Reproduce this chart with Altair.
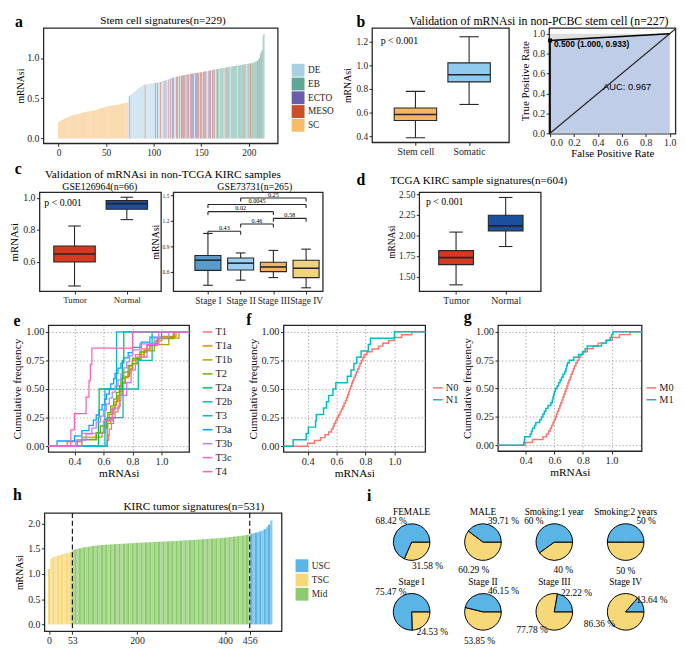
import json
import math
import altair as alt
import pandas as pd

SX = 0.98
SY = 0.985


def PX(v):
    return round(v * SX, 2)


def PY(v):
    return round(v * SY, 2)


SERIF = "Liberation Serif"
SANS = "Liberation Sans"
INK = "#262626"
NOFRAME = alt.ViewBackground(stroke="transparent")
FONTS = dict(labelFont=SERIF, titleFont=SERIF, titleFontWeight="normal")

# ============================ DATA ============================
# ---- a : stem cell signatures (sorted mRNAsi)
a_sc_values = [0.20, 0.21, 0.22, 0.225, 0.23, 0.24, 0.245, 0.25, 0.255, 0.26,
               0.265, 0.27, 0.275, 0.28, 0.285, 0.29, 0.29, 0.295, 0.295, 0.30,
               0.30, 0.305, 0.31, 0.31, 0.315, 0.32, 0.32, 0.325, 0.33, 0.33,
               0.335, 0.335, 0.335, 0.34, 0.34, 0.34, 0.345, 0.345, 0.35, 0.35,
               0.355, 0.36, 0.365, 0.37, 0.375, 0.38, 0.38, 0.385, 0.39, 0.39,
               0.395, 0.40, 0.40, 0.40, 0.405, 0.405, 0.41, 0.41, 0.41, 0.415,
               0.415, 0.42, 0.42, 0.42, 0.425, 0.425, 0.43, 0.43, 0.435, 0.435,
               0.44, 0.44, 0.445, 0.45]
a_mix_values = [0.52, 0.53, 0.54, 0.55, 0.56, 0.57, 0.58, 0.59, 0.60, 0.61,
                0.62, 0.63, 0.64, 0.65, 0.655, 0.66, 0.665, 0.67, 0.672, 0.675,
                0.677, 0.678, 0.68, 0.68, 0.682, 0.684, 0.686, 0.688, 0.69, 0.692,
                0.695, 0.698, 0.70, 0.703, 0.706, 0.71, 0.713, 0.716, 0.72, 0.723,
                0.726, 0.73, 0.735, 0.74, 0.745, 0.75, 0.755, 0.758, 0.762, 0.765,
                0.768, 0.77, 0.773, 0.776, 0.778, 0.78, 0.782, 0.785, 0.787, 0.79,
                0.792, 0.794, 0.796, 0.798, 0.80, 0.802, 0.804, 0.806, 0.808, 0.81,
                0.812, 0.814, 0.816, 0.818, 0.82, 0.822, 0.824, 0.826, 0.828, 0.83,
                0.832, 0.834, 0.836, 0.838, 0.84, 0.843, 0.846, 0.849, 0.852, 0.855,
                0.858, 0.86, 0.862, 0.864, 0.866, 0.868, 0.87, 0.872, 0.874, 0.876,
                0.878, 0.88, 0.882, 0.884, 0.886, 0.888, 0.89, 0.892, 0.894, 0.896,
                0.898, 0.90, 0.902, 0.904, 0.906, 0.908, 0.91, 0.912, 0.914, 0.916,
                0.918, 0.92, 0.922, 0.924, 0.926, 0.928, 0.93, 0.932, 0.934, 0.936,
                0.94, 0.945, 0.95, 0.955, 0.96, 0.97, 0.98, 1.0, 1.05, 1.08,
                1.10, 1.28, 1.30]
a_mix_codes = ("DEDDDDDDDDDDDDDDD" "MDDDDDDDDDDEDEDDMDDD" "EDMDDEDMDEMDDMEDMDEM"
               "MEMDMMEDMMEMDMEMMDME" "DMMEMDDEMMDEBMDBMBDB" "BBBDBBMBBBDBBBBBBDBB"
               "BBBBMBBDBBBMBBBBBBEB" "MBEBBB")
a_code_names = {"D": "DE", "B": "EB", "E": "ECTO", "M": "MESO"}
a_categories = ["DE", "EB", "ECTO", "MESO", "SC"]
a_colors = ["#A9CFE3", "#5EA796", "#6A5EAA", "#C64F2E", "#F6BA68"]
a_xticks = [0, 50, 100, 150, 200]

# ---- b : boxplot + ROC
b_groups = ["Stem cell", "Somatic"]
b_lower = [0.39, 0.67]
b_q1 = [0.535, 0.86]
b_median = [0.585, 0.92]
b_q3 = [0.64, 1.02]
b_upper = [0.78, 1.24]
b_colors = ["#F6B760", "#8FCBEF"]

roc_fpr = [0.0, 0.0, 1.0]
roc_tpr = [0.0, 0.933, 1.0]
roc_max_fpr = [0.0, 1.0]
roc_max_tpr = [0.0, 1.0]
roc_diag = [0.0, 1.1]
roc_best = [0.0, 0.933]
roc_best_label = "0.500 (1.000, 0.933)"
roc_auc_label = "AUC: 0.967"

# ---- c : GSE126964
c1_groups = ["Tumor", "Normal"]
c1_lower = [0.45, 0.865]
c1_q1 = [0.60, 0.93]
c1_median = [0.65, 0.965]
c1_q3 = [0.70, 0.985]
c1_upper = [0.825, 1.005]
tn_colors = ["#D8381F", "#1D4F9F"]

# ---- c : GSE73731
c2_groups = ["Stage I", "Stage II", "Stage III", "Stage IV"]
c2_lower = [0.44, 0.50, 0.53, 0.41]
c2_q1 = [0.615, 0.62, 0.60, 0.53]
c2_median = [0.735, 0.70, 0.655, 0.64]
c2_q3 = [0.79, 0.76, 0.71, 0.735]
c2_upper = [1.05, 0.82, 0.85, 0.865]
c2_colors = ["#5B9BCB", "#9DD0F0", "#F6B461", "#F1D27F"]
c2_pair_left = [0, 1, 2, 0, 0, 1]
c2_pair_right = [1, 2, 3, 2, 3, 3]
c2_bracket_y = [1.075, 1.16, 1.227, 1.306, 1.39, 1.466]
c2_bracket_p = ["0.43", "0.46", "0.58", "0.02", "0.0045", "0.25"]

# ---- d : TCGA KIRC
d_groups = ["Tumor", "Normal"]
d_lower = [1.40, 1.865]
d_q1 = [1.645, 2.055]
d_median = [1.73, 2.115]
d_q3 = [1.815, 2.245]
d_upper = [2.04, 2.46]

# ---- e : T stage ECDF samples
e_groups = ["T1", "T1a", "T1b", "T2", "T2a", "T2b", "T3", "T3a", "T3b", "T3c", "T4"]
e_colors = ["#F8766D", "#DB8E00", "#AEA200", "#64B200", "#00BD5C", "#00C1A7",
            "#00BADE", "#00A6FF", "#B385FF", "#EF67EB", "#FF63B6"]
e_T1 = [0.625, 0.635, 0.64, 0.655, 0.67, 0.68, 0.70, 0.715, 0.72, 0.73, 0.735, 0.75,
        0.77, 0.78, 0.80, 0.82, 0.86, 0.92, 0.98, 1.09]
e_T1a = [0.35, 0.45, 0.59, 0.61, 0.63, 0.65, 0.66, 0.67, 0.68, 0.69, 0.70, 0.71, 0.72,
         0.73, 0.75, 0.77, 0.79, 0.80, 0.83, 0.86, 0.88, 0.92, 0.96, 1.0, 1.1]
e_T1b = [0.42, 0.55, 0.60, 0.62, 0.64, 0.66, 0.68, 0.70, 0.72, 0.73, 0.75, 0.78, 0.80,
         0.84, 0.88, 0.95, 1.05, 1.12]
e_T2 = [0.45, 0.55, 0.58, 0.61, 0.63, 0.65, 0.67, 0.69, 0.71, 0.72, 0.74, 0.77, 0.80,
        0.85, 0.90, 0.97, 1.08]
e_T2a = [0.565, 0.57, 0.73, 0.74]
e_T2b = [0.625, 0.735, 0.84, 0.935]
e_T3 = [0.61, 0.69]
e_T3a = [0.28, 0.40, 0.45, 0.50, 0.53, 0.55, 0.57, 0.59, 0.61, 0.62, 0.64, 0.65, 0.67,
         0.68, 0.70, 0.72, 0.74, 0.77, 0.80, 0.86, 0.92, 1.0]
e_T3b = [0.41, 0.48, 0.52, 0.55, 0.58, 0.60, 0.62, 0.64, 0.66, 0.68, 0.70, 0.72, 0.74,
         0.76, 0.78, 0.80, 0.85, 0.95, 1.05]
e_T3c = [0.45, 0.60, 0.66, 0.71, 0.76, 0.79, 0.82, 0.90, 0.98]
e_T4 = [0.375, 0.40, 0.48, 0.50, 0.51, 0.52, 0.80]

# ---- f : N stage ECDF samples
f_groups = ["N0", "N1"]
f_N0 = [0.40, 0.447, 0.49, 0.52, 0.545, 0.565, 0.576, 0.584, 0.594, 0.604,
        0.614, 0.624, 0.634, 0.644, 0.652, 0.662, 0.67, 0.677, 0.684, 0.69,
        0.697, 0.705, 0.712, 0.72, 0.729, 0.737, 0.746, 0.755, 0.762, 0.772,
        0.782, 0.791, 0.81, 0.845, 0.89, 0.92, 0.96, 1.0, 1.05, 1.12]
f_N1 = [0.30, 0.39, 0.405, 0.455, 0.46, 0.51, 0.53, 0.545, 0.575, 0.595,
        0.675, 0.70, 0.72, 0.74, 0.77, 0.82, 0.835, 1.0]
# ---- g : M stage ECDF samples
g_groups = ["M0", "M1"]
g_M0 = [0.395, 0.447, 0.52, 0.545, 0.56, 0.571, 0.58, 0.59, 0.598, 0.607,
        0.614, 0.622, 0.63, 0.638, 0.645, 0.652, 0.66, 0.667, 0.674, 0.681,
        0.688, 0.695, 0.702, 0.71, 0.717, 0.725, 0.733, 0.74, 0.75, 0.76,
        0.772, 0.784, 0.796, 0.83, 0.87, 0.905, 0.96, 1.005, 1.055, 1.13]
g_M1 = [0.385, 0.39, 0.392, 0.43, 0.44, 0.447, 0.46, 0.47, 0.497, 0.51,
        0.52, 0.53, 0.54, 0.555, 0.575, 0.585, 0.59, 0.595, 0.60, 0.607,
        0.62, 0.63, 0.64, 0.65, 0.66, 0.672, 0.68, 0.685, 0.69, 0.705,
        0.735, 0.77, 0.80, 0.815, 0.83, 0.93, 0.965, 0.99, 1.0, 1.01]
ng_colors = ["#F8766D", "#00BFC4"]

# ---- h : KIRC tumour signatures (one bar per 5 samples)
h_index = list(range(0, 506, 5))
h_values = [1.10, 1.30, 1.34, 1.35, 1.36, 1.375, 1.39, 1.40, 1.41, 1.425,
            1.44, 1.475, 1.49, 1.50, 1.51, 1.52, 1.53, 1.535, 1.54, 1.55,
            1.555, 1.56, 1.565, 1.57, 1.575, 1.578, 1.58, 1.583, 1.586, 1.589,
            1.592, 1.594, 1.597, 1.60, 1.602, 1.605, 1.607, 1.61, 1.612, 1.615,
            1.618, 1.62, 1.622, 1.624, 1.626, 1.628, 1.63, 1.632, 1.635, 1.637,
            1.639, 1.641, 1.643, 1.645, 1.647, 1.65, 1.652, 1.655, 1.657, 1.66,
            1.662, 1.665, 1.667, 1.67, 1.672, 1.675, 1.677, 1.68, 1.683, 1.686,
            1.689, 1.692, 1.695, 1.698, 1.70, 1.703, 1.707, 1.71, 1.714, 1.718,
            1.722, 1.726, 1.73, 1.735, 1.74, 1.745, 1.75, 1.755, 1.76, 1.767,
            1.775, 1.785, 1.80, 1.81, 1.82, 1.83, 1.845, 1.86, 1.89, 1.93,
            1.98, 2.06]
h_cuts = [53, 456]
h_xticks = [0, 53, 200, 400, 456]
h_groups = ["USC", "TSC", "Mid"]
h_colors = ["#5AB4E6", "#F7D878", "#8DCB6E"]

# ---- i : pies
i_titles = ["FEMALE", "MALE", "Smoking:1 year", "Smoking:2 years",
            "Stage I", "Stage II", "Stage III", "Stage IV"]
i_blue = [68.42, 39.71, 60, 50, 75.47, 46.15, 22.22, 13.64]
i_yellow = [31.58, 60.29, 40, 50, 24.53, 53.85, 77.78, 86.36]
i_col = [0, 1, 2, 3, 0, 1, 2, 3]
i_row = [0, 0, 0, 0, 1, 1, 1, 1]
i_colors = ["#5AB4E6", "#F7D878"]


# ============================ HELPERS ============================
def txt(text, x, y, size=11, weight="normal", align="center", baseline="middle",
        font=SERIF, color="black"):
    return alt.Chart(pd.DataFrame({"k": [0]})).mark_text(
        text=text, fontSize=size, fontWeight=weight, align=align, baseline=baseline,
        font=font, color=color).encode(x=alt.value(PX(x)), y=alt.value(PY(y)))


def letter(ch, x, y):
    return txt(ch, x, y, size=16, weight="bold", baseline="alphabetic")


def spacer(w, h):
    return alt.Chart(pd.DataFrame({"k": [0]})).mark_point(opacity=0).encode(
        x=alt.value(0), y=alt.value(0)).properties(width=PX(w), height=PY(h), view=NOFRAME)


def box_layers(names, lo, q1, md, q3, hi, colors, xdom, ydom, yvals, yfmt, ytitle,
               box_w, cap_w, xlab=10, ylab=10, ytit=10, ypad=2):
    df = pd.DataFrame({"i": list(range(len(names))), "g": names, "lo": lo, "q1": q1,
                       "md": md, "q3": q3, "hi": hi})
    xax = alt.Axis(values=list(range(len(names))),
                   labelExpr=json.dumps(names) + "[round(datum.value)]",
                   title=None, labelFontSize=xlab, labelOverlap=False, **FONTS)
    yax = alt.Axis(values=yvals, format=yfmt, title=ytitle, titleFontSize=ytit,
                   labelFontSize=ylab, titlePadding=ypad, **FONTS)
    xs = alt.Scale(domain=xdom, nice=False, zero=False)
    ys = alt.Scale(domain=ydom, nice=False, zero=False)

    def X(f="i"):
        return alt.X(f + ":Q", scale=xs, axis=xax)

    def Y(f):
        return alt.Y(f + ":Q", scale=ys, axis=yax)

    base = alt.Chart(df)
    layers = [
        base.mark_rule(color=INK, strokeWidth=1.1).encode(x=X(), y=Y("lo"), y2="hi:Q"),
        base.mark_bar(size=PX(box_w), stroke=INK, strokeWidth=1.1, orient="vertical",
                      opacity=1).encode(
            x=X(), y=Y("q1"), y2="q3:Q",
            color=alt.Color("g:N", scale=alt.Scale(domain=names, range=colors), legend=None)),
        base.mark_tick(orient="horizontal", size=PX(box_w), thickness=1.6, color=INK,
                       opacity=1).encode(x=X(), y=Y("md")),
        base.mark_tick(orient="horizontal", size=PX(cap_w), thickness=1.1, color=INK,
                       opacity=1).encode(x=X(), y=Y("lo")),
        base.mark_tick(orient="horizontal", size=PX(cap_w), thickness=1.1, color=INK,
                       opacity=1).encode(x=X(), y=Y("hi")),
    ]
    return layers, X, Y


def ecdf_chart(groups, samples, colors, xdom, ydom, lx, ly, row_pad, lab_size, sw):
    rows = []
    for g, vals in zip(groups, samples):
        vs = sorted(vals)
        n = len(vs)
        rows.append((g, xdom[0] - 0.1, 0.0, 0))
        for k, v in enumerate(vs, 1):
            rows.append((g, v, k / n, k))
        rows.append((g, xdom[1] + 0.1, 1.0, n + 1))
    df = pd.DataFrame(rows, columns=["g", "x", "y", "k"])
    grid = dict(grid=True, gridDash=[1.5, 2], gridColor="#9c9c9c", gridWidth=0.8)
    xe = alt.X("x:Q", scale=alt.Scale(domain=xdom, nice=False, zero=False),
               axis=alt.Axis(values=[0.4, 0.6, 0.8, 1.0], format=".1f", title="mRNAsi",
                             labelFontSize=10.5, titleFontSize=11.5, titlePadding=1,
                             **grid, **FONTS))
    ye = alt.Y("y:Q", scale=alt.Scale(domain=ydom, nice=False, zero=False),
               axis=alt.Axis(values=[0, 0.25, 0.5, 0.75, 1.0], format=".2f",
                             title="Cumulative frequency", labelFontSize=10.5,
                             titleFontSize=11.5, titlePadding=3, **grid, **FONTS))
    return alt.Chart(df).mark_line(interpolate="step-after", strokeWidth=sw, clip=True).encode(
        x=xe, y=ye, order="k:Q",
        color=alt.Color("g:N", scale=alt.Scale(domain=groups, range=colors), title=None,
                        legend=alt.Legend(orient="none", legendX=PX(lx), legendY=PY(ly),
                                          symbolType="stroke", symbolSize=100,
                                          symbolStrokeWidth=1.5, rowPadding=row_pad,
                                          labelFontSize=lab_size, labelOffset=2,
                                          labelFont=SERIF)))


# ============================ PANEL a ============================
a_vals = a_sc_values + a_mix_values
a_cats = ["SC"] * len(a_sc_values) + [a_code_names[c] for c in a_mix_codes]
dfA = pd.DataFrame(list(zip(range(len(a_vals)), a_vals, a_cats)), columns=["i", "v", "cat"])
xA = alt.X("i:Q", scale=alt.Scale(domain=[-10.7, 225.2], nice=False, zero=False),
           axis=alt.Axis(values=a_xticks, format="d", title=None, labelFontSize=9.5, **FONTS))
yA = alt.Y("v:Q", scale=alt.Scale(domain=[-0.06, 1.373], nice=False, zero=False),
           axis=alt.Axis(values=[0, 0.5, 1.0], format=".1f", title="mRNAsi",
                         titleFontSize=10, labelFontSize=10, titlePadding=1, **FONTS))
barsA = alt.Chart(dfA).mark_bar(size=PX(0.62), orient="vertical", opacity=0.85).encode(
    x=xA, y=yA, y2=alt.datum(0),
    color=alt.Color("cat:N", scale=alt.Scale(domain=a_categories, range=a_colors), title=None,
                    legend=alt.Legend(orient="none", legendX=PX(257), legendY=PY(36.5),
                                      symbolType="square", symbolSize=170,
                                      symbolStrokeWidth=0, symbolOpacity=1, rowPadding=0,
                                      labelFontSize=9.5, labelOffset=3, labelFont=SERIF)))
panelA = alt.layer(
    barsA,
    letter("a", -25.5, -0.5),
    txt("Stem cell signatures(n=229)", 124, -7, 11.3),
).properties(width=PX(243), height=PY(119))

# ============================ PANEL b ============================
lb, _, _ = box_layers(b_groups, b_lower, b_q1, b_median, b_q3, b_upper, b_colors,
                      [-0.717, 1.65], [0.351, 1.314], [0.4, 0.6, 0.8, 1.0, 1.2], ".1f",
                      "mRNAsi", 44, 20, xlab=10, ylab=9.5, ytit=10, ypad=3)
panelB = alt.layer(
    *lb,
    letter("b", -11.5, -1),
    txt("Validation of mRNAsi in non-PCBC stem cell (n=227)", 173, -7, 12),
    txt("p < 0.001", 9, 14, 10, align="left"),
).properties(width=PX(142), height=PY(118))

roc_xs = alt.Scale(domain=[-0.008, 1.048], nice=False, zero=False)
roc_ys = alt.Scale(domain=[-0.003, 1.058], nice=False, zero=False)
roc_ticks = [0, 0.2, 0.4, 0.6, 0.8, 1.0]
roc_xax = alt.Axis(values=roc_ticks, format=".1f", title="False Positive Rate",
                   labelFontSize=10, titleFontSize=11, titlePadding=0, **FONTS)
roc_yax = alt.Axis(values=roc_ticks, format=".1f", title="True Positive Rate",
                   labelFontSize=10, titleFontSize=11, titlePadding=2, **FONTS)


def RX(f):
    return alt.X(f, scale=roc_xs, axis=roc_xax)


def RY(f):
    return alt.Y(f, scale=roc_ys, axis=roc_yax)


df_max = pd.DataFrame({"x0": [min(roc_max_fpr)], "x1": [max(roc_max_fpr)],
                       "y0": [min(roc_max_tpr)], "y1": [max(roc_max_tpr)]})
df_roc = pd.DataFrame({"k": list(range(len(roc_fpr))), "fpr": roc_fpr, "tpr": roc_tpr})
panelROC = alt.layer(
    alt.Chart(df_max).mark_rect(color="#DEDEDE").encode(x=RX("x0:Q"), x2="x1:Q",
                                                        y=RY("y0:Q"), y2="y1:Q"),
    alt.Chart(df_roc).transform_filter("datum.tpr > 0").mark_area(
        color="#C0CDE8", opacity=1).encode(
        x=RX("fpr:Q"), y=RY("tpr:Q"), y2=alt.datum(0)),
    alt.Chart(pd.DataFrame({"d": roc_diag})).mark_line(color=INK, strokeWidth=1.2,
                                                      clip=True).encode(
        x=RX("d:Q"), y=RY("d:Q")),
    alt.Chart(df_roc).mark_line(color="black", strokeWidth=1.6).encode(
        x=RX("fpr:Q"), y=RY("tpr:Q"), order="k:Q"),
    alt.Chart(pd.DataFrame({"fpr": [roc_best[0]], "tpr": [roc_best[1]]})).mark_square(
        size=16, color="black", opacity=1).encode(x=RX("fpr:Q"), y=RY("tpr:Q")),
    txt(roc_best_label, 5, 17, 8.5, weight="bold", align="left", font=SANS),
    txt(roc_auc_label, 81, 61, 9.5, font=SANS),
).properties(width=PX(131), height=PY(109))

# ============================ PANEL c ============================
lc1, _, _ = box_layers(c1_groups, c1_lower, c1_q1, c1_median, c1_q3, c1_upper, tn_colors,
                       [-0.576, 1.559], [0.418, 1.036], [0.6, 0.8, 1.0], ".1f", "mRNAsi",
                       43, 13, xlab=9, ylab=10, ytit=11, ypad=3)
panelC1 = alt.layer(
    *lc1,
    letter("c", -22, -19),
    txt("Validation of  mRNAsi in non-TCGA KIRC samples", 128, -18, 11.5),
    txt("GSE126964(n=66)", 62.5, -5.5, 10),
    txt("p < 0.001", 5, 11, 10, align="left"),
).properties(width=PX(126), height=PY(102))

lc2, XC2, YC2 = box_layers(c2_groups, c2_lower, c2_q1, c2_median, c2_q3, c2_upper, c2_colors,
                           [-0.909, 3.358], [0.371, 1.534], [0.6, 0.9, 1.2, 1.5], ".1f",
                           "mRNAsi", 27, 10, xlab=9.5, ylab=5.5, ytit=10, ypad=2)
dfBr = pd.DataFrame({"xa": c2_pair_left, "xb": c2_pair_right, "h": c2_bracket_y,
                     "lab": c2_bracket_p})
br = alt.Chart(dfBr).transform_calculate(hd="datum.h - 0.04", xm="(datum.xa + datum.xb) / 2")
panelC2 = alt.layer(
    *lc2,
    br.mark_rule(color=INK, strokeWidth=1.1).encode(x=XC2("xa"), x2="xb:Q", y=YC2("h")),
    br.mark_rule(color=INK, strokeWidth=1.1).encode(x=XC2("xa"), y=YC2("h"), y2="hd:Q"),
    br.mark_rule(color=INK, strokeWidth=1.1).encode(x=XC2("xb"), y=YC2("h"), y2="hd:Q"),
    br.mark_text(fontSize=6.3, baseline="bottom", dy=-0.3, font=SERIF, color="black").encode(
        x=XC2("xm"), y=YC2("h"), text="lab:N"),
    txt("GSE73731(n=265)", 84.5, -5.5, 10),
).properties(width=PX(155), height=PY(102))

# ============================ PANEL d ============================
ld, _, _ = box_layers(d_groups, d_lower, d_q1, d_median, d_q3, d_upper, tn_colors,
                      [-0.643, 1.607], [1.324, 2.523], [1.5, 1.75, 2.0, 2.25, 2.5], ".2f",
                      "mRNAsi", 36, 14, xlab=10, ylab=9.5, ytit=9.5, ypad=2)
panelD = alt.layer(
    *ld,
    letter("d", -60.5, -8),
    txt("TCGA KIRC sample signatures(n=604)", -30, -12, 11.3, align="left"),
    txt("p < 0.001", 7, 10, 10, align="left"),
).properties(width=PX(126), height=PY(102))

# ============================ PANELS e f g ============================
panelE = alt.layer(
    ecdf_chart(e_groups, [e_T1, e_T1a, e_T1b, e_T2, e_T2a, e_T2b, e_T3, e_T3a, e_T3b,
                          e_T3c, e_T4],
               e_colors, [0.22, 1.19], [-0.051, 1.059], 159, 1, 2.2, 10.5, 1.3),
    letter("e", -32.5, 1),
).properties(width=PX(146), height=PY(131))
panelF = alt.layer(
    ecdf_chart(f_groups, [f_N0, f_N1], ng_colors, [0.233, 1.213], [-0.051, 1.059],
               154, 58.75, -1.5, 10.5, 1.5),
    letter("f", -36, 0),
).properties(width=PX(147), height=PY(131))
panelG = alt.layer(
    ecdf_chart(g_groups, [g_M0, g_M1], ng_colors, [0.205, 1.21], [-0.051, 1.059],
               153, 58.75, -1.5, 10.5, 1.5),
    letter("g", -31.5, -3),
).properties(width=PX(149), height=PY(130))

# ============================ PANEL h ============================
h_grp = ["TSC" if i < h_cuts[0] else ("USC" if i >= h_cuts[1] else "Mid") for i in h_index]
dfH = pd.DataFrame({"i": h_index, "v": h_values, "grp": h_grp})
dfH["par"] = [k % 2 for k in range(len(dfH))]
h_half = (h_index[1] - h_index[0]) / 2
hxs = alt.Scale(domain=[-10.5, 528.3], nice=False, zero=False)
hxax = alt.Axis(values=h_xticks, format="d", title=None, labelFontSize=10, labelOverlap=False,
                **FONTS)
barsH = alt.Chart(dfH).transform_calculate(
    x0=f"datum.i - {h_half}", x1=f"datum.i + {h_half}").mark_bar().encode(
    x=alt.X("x0:Q", scale=hxs, axis=hxax), x2="x1:Q",
    y=alt.Y("v:Q", scale=alt.Scale(domain=[-0.135, 2.21], nice=False, zero=False),
            axis=alt.Axis(values=[0, 0.5, 1.0, 1.5, 2.0], format=".1f", title="mRNAsi",
                          labelFontSize=10, titleFontSize=10, titlePadding=3, **FONTS)),
    y2=alt.datum(0),
    color=alt.Color("grp:N", scale=alt.Scale(domain=h_groups, range=h_colors), title=None,
                    legend=alt.Legend(orient="none", legendX=PX(260), legendY=PY(47.3),
                                      symbolType="square", symbolSize=170,
                                      symbolStrokeWidth=0, symbolOpacity=1, rowPadding=0.5,
                                      labelFontSize=9.5, labelOffset=3, labelFont=SERIF)),
    opacity=alt.Opacity("par:N", scale=alt.Scale(domain=[0, 1], range=[1.0, 0.72]),
                        legend=None))
cutsH = alt.Chart(pd.DataFrame({"c": h_cuts})).mark_rule(
    color="black", strokeDash=[5, 3], strokeWidth=1.1).encode(
    x=alt.X("c:Q", scale=hxs, axis=hxax))
panelH = alt.layer(
    barsH, cutsH,
    letter("h", -28, -13),
    txt("KIRC tumor signatures(n=531)", 155, -6, 11.4),
).properties(width=PX(246), height=PY(122))

# ============================ PANEL i ============================
ixs = alt.Scale(domain=[-0.5, 3.5], nice=False, zero=False)
iys = alt.Scale(domain=[-0.4167, 1.4167], nice=False, zero=False, reverse=True)
STEP_X, STEP_Y, RL, TITLE_UP = 74.0, 72.0, 30.0, 31.0


def pct(v):
    s = f"{v:.2f}".rstrip("0").rstrip(".")
    return s + " %"


arc_rows, lab_rows, tit_rows = [], [], []
for t, bl, ye, c, r in zip(i_titles, i_blue, i_yellow, i_col, i_row):
    f = ye / 100.0
    for part, t0, t1, v in (("yellow", 0.0, f, ye), ("blue", f, 1.0, bl)):
        arc_rows.append({"part": part, "t0": t0, "t1": t1, "c": c, "r": r})
        deg = (90.0 + 360.0 * (t0 + t1) / 2) % 360.0
        # keep labels clear of the pie title above
        if 0 <= deg < 45:
            deg = 45.0
        elif deg > 315:
            deg = 315.0
        ang = math.radians(deg)
        lab_rows.append({"lx": c + RL * math.sin(ang) / STEP_X,
                         "ly": r - RL * math.cos(ang) / STEP_Y, "lab": pct(v)})
    tit_rows.append({"tx": c, "ty": r - TITLE_UP / STEP_Y, "tt": t})

arcs = alt.Chart(pd.DataFrame(arc_rows)).mark_arc(
    radius=PX(19), stroke="black", strokeWidth=1).encode(
    x=alt.X("c:Q", scale=ixs, axis=None), y=alt.Y("r:Q", scale=iys, axis=None),
    theta=alt.Theta("t0:Q", scale=alt.Scale(domain=[0, 1],
                                            range=[math.pi / 2, math.pi / 2 + 2 * math.pi])),
    theta2="t1:Q",
    color=alt.Color("part:N", scale=alt.Scale(domain=["blue", "yellow"], range=i_colors),
                    legend=None))
labs = alt.Chart(pd.DataFrame(lab_rows)).mark_text(fontSize=9.5, font=SERIF,
                                                   color="black").encode(
    x=alt.X("lx:Q", scale=ixs, axis=None), y=alt.Y("ly:Q", scale=iys, axis=None),
    text="lab:N")
tits = alt.Chart(pd.DataFrame(tit_rows)).mark_text(fontSize=9.5, font=SERIF,
                                                   color="black").encode(
    x=alt.X("tx:Q", scale=ixs, axis=None), y=alt.Y("ty:Q", scale=iys, axis=None),
    text="tt:N")
panelI = alt.layer(arcs, labs, tits, letter("i", -7, -12)).properties(
    width=PX(296), height=PY(132), view=NOFRAME)


# ============================ LAYOUT ============================
def row(*cells):
    return alt.hconcat(*cells, spacing=0, bounds="flush").resolve_scale(
        color="independent", opacity="independent").resolve_legend(
        color="independent", opacity="independent")


row1 = row(spacer(5, 1), panelA, spacer(96, 1), panelB, spacer(40, 1), panelROC)
row2 = row(spacer(1, 1), panelC1, spacer(12, 1), panelC2, spacer(99, 1), panelD)
row3 = row(spacer(10, 1), panelE, spacer(96, 1), panelF, spacer(74, 1), panelG)
row4 = row(spacer(6, 1), panelH, spacer(96, 1), panelI)

chart = alt.vconcat(
    row1, spacer(1, 169), row2, spacer(1, 137), row3, spacer(1, 193), row4,
    spacing=0, bounds="flush",
).resolve_scale(
    color="independent", opacity="independent"
).resolve_legend(
    color="independent", opacity="independent"
).properties(
    padding={"left": 0, "top": 0, "right": 0, "bottom": 0}
).configure(
    font=SERIF
).configure_view(
    stroke=INK, strokeWidth=1.3
).configure_axis(
    domain=False, grid=False, ticks=True, tickColor=INK, tickSize=3, tickWidth=1,
    labelColor="#1e1e1e", titleColor="black", labelFont=SERIF, titleFont=SERIF,
    titleFontWeight="normal", labelPadding=1.5
).configure_legend(
    padding=0, labelFont=SERIF, labelColor="#1e1e1e"
)

chart.save("out.html", embed_options={"renderer": "svg", "actions": False})
